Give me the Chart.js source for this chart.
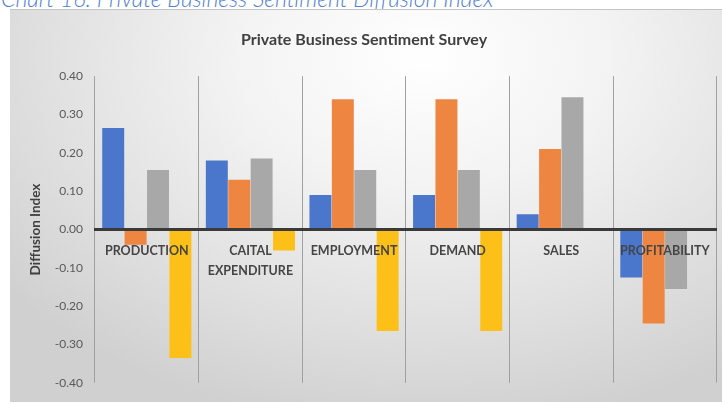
<!DOCTYPE html>
<html>
<head>
<meta charset="utf-8">
<script src="https://cdn.jsdelivr.net/npm/chart.js@4"></script>
<style>
  html, body { margin: 0; padding: 0; background: #fff; }
  body { width: 722px; height: 404px; overflow: hidden; position: relative; }
  #cap { position: absolute; left: 1px; top: -16px; font: italic 300 23px Lato, "Open Sans", sans-serif; color: #4f80d4; white-space: nowrap; }
  #box { position: absolute; left: 10px; top: 9px; width: 712px; height: 393px; box-sizing: border-box;
         border-top: 1px solid #c4c4c4;
         background: radial-gradient(ellipse 75% 95% at 58% 12%, #ffffff 0%, #f3f3f3 35%, #dedede 75%, #d0d0d0 100%); }
  #box canvas { display: block; }
</style>
</head>
<body>
<div id="cap">Chart 16: Private Business Sentiment Diffusion Index</div>
<div id="box"><canvas id="c"></canvas></div>
<script>
const categories = ["PRODUCTION", ["CAITAL", "EXPENDITURE"], "EMPLOYMENT", "DEMAND", "SALES", "PROFITABILITY"];
const series1 = [0.265, 0.18, 0.09, 0.09, 0.04, -0.125];
const series2 = [-0.04, 0.13, 0.34, 0.34, 0.21, -0.245];
const series3 = [0.155, 0.185, 0.155, 0.155, 0.345, -0.155];
const series4 = [-0.335, -0.055, -0.265, -0.265, null, null];
const yTicks = [-0.4, -0.3, -0.2, -0.1, 0, 0.1, 0.2, 0.3, 0.4];

const font = "Lato, 'Open Sans', sans-serif";
new Chart(document.getElementById('c'), {
  type: 'bar',
  data: {
    labels: categories,
    datasets: [
      { label: 'Series 1', data: series1, backgroundColor: '#4a76cc' },
      { label: 'Series 2', data: series2, backgroundColor: '#ee8541' },
      { label: 'Series 3', data: series3, backgroundColor: '#a8a8a8' },
      { label: 'Series 4', data: series4, backgroundColor: '#fdc019' }
    ]
  },
  options: {
    responsive: true,
    maintainAspectRatio: false,
    animation: false,
    layout: { padding: { left: 0, right: 4, top: 0, bottom: 8 } },
    datasets: { bar: { categoryPercentage: 0.865, barPercentage: 0.98 } },
    plugins: {
      legend: { display: false },
      tooltip: { enabled: false },
      title: {
        display: true,
        text: 'Private Business Sentiment Survey',
        color: '#404040',
        font: { family: font, size: 16, weight: 'bold' },
        padding: { top: 20, bottom: 27 }
      }
    },
    scales: {
      x: {
        position: { y: 0 },
        grid: { display: true, offset: true, color: '#a0a0a0', lineWidth: 1, drawTicks: false, z: -1 },
        border: { display: true, color: '#3a3a3a', width: 3, z: 1 },
        ticks: { z: 2, color: '#454545', font: { family: font, size: 12.5, weight: 'bold', lineHeight: 1.55 }, padding: 12, maxRotation: 0, autoSkip: false }
      },
      y: {
        min: -0.4, max: 0.4,
        afterBuildTicks: (s) => { s.ticks = yTicks.map(v => ({ value: v })); },
        afterFit: (s) => { s.width = 85; },
        grid: { display: false, drawTicks: false },
        border: { display: false },
        ticks: { color: '#595959', font: { family: font, size: 12 }, padding: 12,
                 callback: (v) => Number(v).toFixed(2) },
        title: { display: true, text: 'Diffusion Index', color: '#404040',
                 font: { family: font, size: 13.5, weight: 'bold' }, padding: { top: 18, bottom: 0 } }
      }
    }
  }
});
</script>
</body>
</html>
